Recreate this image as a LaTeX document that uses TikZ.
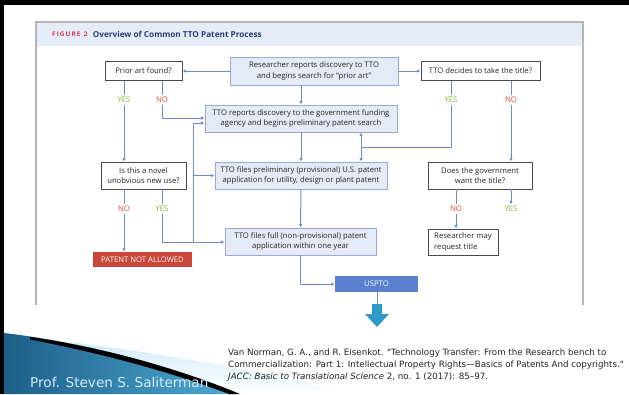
\documentclass[tikz,border=0pt]{standalone}
\usepackage{fontspec}
\setmainfont{Open Sans}
\newfontfamily\slidefont{DejaVu Sans}
\usetikzlibrary{arrows.meta, positioning, calc}

\begin{document}
\begin{tikzpicture}[
    x=1pt, y=-1pt,
    >=Latex
]

\definecolor{boxfill}{HTML}{E6EAF6}
\definecolor{boxline}{HTML}{9AA6D6}
\definecolor{askline}{HTML}{4A4A4A}
\definecolor{flow}{HTML}{6F8BCB}
\definecolor{figtext}{HTML}{262626}
\definecolor{yesgreen}{HTML}{7DB83A}
\definecolor{nored}{HTML}{D9523A}
\definecolor{stopred}{HTML}{C9463A}
\definecolor{usptoblue}{HTML}{5B80CF}
\definecolor{headband}{HTML}{E4EDF7}
\definecolor{framegray}{HTML}{B4B4B4}
\definecolor{headred}{HTML}{D8344E}
\definecolor{headnavy}{HTML}{2B3C73}
\definecolor{dropteal}{HTML}{2E9AC6}
\definecolor{swdark}{HTML}{1C5F88}
\definecolor{swlight}{HTML}{4FAAD3}
\definecolor{swpale}{HTML}{D4ECF8}
\definecolor{citetext}{HTML}{222222}

\tikzset{
    stepbox/.style={
        rectangle,
        draw=boxline,
        fill=boxfill,
        line width=0.9pt,
        text=figtext,
        font=\fontsize{7.7}{10.4}\selectfont,
        align=center,
        inner sep=1pt
    },
    askbox/.style={
        stepbox,
        draw=askline,
        fill=white
    },
    endbox/.style={
        rectangle,
        text=white,
        font=\fontsize{7.7}{9}\selectfont,
        inner sep=1pt
    },
    yeslbl/.style={text=yesgreen, font=\fontsize{7.8}{8}\selectfont, inner sep=1.5pt},
    nolbl/.style={text=nored, font=\fontsize{7.8}{8}\selectfont, inner sep=1.5pt},
    lnk/.style={draw=flow, line width=1pt},
    arr/.style={lnk, -{Latex[length=3.5pt, width=3.5pt]}}
}

\useasboundingbox (0,0) rectangle (629,394);
\fill[white] (0,0) rectangle (629,394);

% Slide edges
\fill[black] (0,0) rectangle (629,5);

% Figure frame and header band
\fill[headband] (36,22) rectangle (583,46);
\draw[framegray, line width=1.6pt] (36,305) -- (36,22) -- (583,22) -- (583,305);
\node[anchor=west, inner sep=0pt, text=headred, font=\fontsize{6.4}{7}\selectfont\bfseries] (fignum) at (52,34) {F\,I\,G\,U\,R\,E\ \ 2};
\node[right=5pt of fignum, inner sep=0pt, text=headnavy, font=\fontsize{8.2}{9}\selectfont\bfseries] (figtitle) {Overview of Common TTO Patent Process};

% Boxes
\node[stepbox, minimum width=168pt, minimum height=28pt] (research) at (314,71) {Researcher reports discovery to TTO\\and begins search for ``prior art''};
\node[askbox, minimum width=77pt, minimum height=19pt] (prior) at (143.5,71) {Prior art found?};
\node[askbox, minimum width=119pt, minimum height=19pt] (decide) at (480.5,71) {TTO decides to take the title?};
\node[stepbox, minimum width=192pt, minimum height=27pt] (reports) at (301,118.5) {TTO reports discovery to the government funding\\agency and begins preliminary patent search};
\node[askbox, minimum width=85pt, minimum height=27pt] (novel) at (143.5,175.5) {Is this a novel\\unobvious new use?};
\node[stepbox, minimum width=172pt, minimum height=27pt] (prelim) at (301,175.5) {TTO files preliminary (provisional) U.S. patent\\application for utility, design or plant patent};
\node[askbox, minimum width=104pt, minimum height=27pt] (gov) at (480,175.5) {Does the government\\want the title?};
\node[askbox, minimum width=70pt, minimum height=26pt, align=left] (mayreq) at (463,242) {Researcher may\\request title};
\node[stepbox, minimum width=151pt, minimum height=27pt] (full) at (300.5,241.5) {TTO files full (non-provisional) patent\\application within one year};
\node[endbox, fill=stopred, minimum width=99pt, minimum height=15pt] (stop) at (142.5,259.5) {PATENT NOT ALLOWED};
\node[endbox, fill=usptoblue, minimum width=83pt, minimum height=16pt] (uspto) at (376.5,284) {USPTO};

% Answer labels
\node[yeslbl] (prioryes) at (124,100) {YES};
\node[nolbl] (priorno) at (162,100) {NO};
\node[yeslbl] (decideyes) at (451,100) {YES};
\node[nolbl] (decideno) at (511,100) {NO};
\node[nolbl] (novelno) at (124,209) {NO};
\node[yeslbl] (novelyes) at (162,209) {YES};
\node[nolbl] (govno) at (456,209) {NO};
\node[yeslbl] (govyes) at (511,209) {YES};

% Junctions
\coordinate (feedbot) at (193,242);
\coordinate (feedtop) at (193,123);
\coordinate (feedmid) at (193,175.5);
\coordinate (titlejoin) at (361,147);
\coordinate (drop) at (377,304);

% From the researcher
\draw[arr] (research.west) -- (prior.east);
\draw[arr] (research.east) -- (decide.west);
\draw[arr] (research.south -| reports.north) -- (reports.north);

% Prior art found?
\draw[lnk] (prior.south -| prioryes) -- (prioryes);
\draw[arr] (prioryes) -- (novel.north -| prioryes);
\draw[lnk] (prior.south -| priorno) -- (priorno);
\draw[arr] (priorno) |- (reports.west |- 0,118);

% Is this a novel unobvious new use?
\draw[lnk] (novel.south -| novelno) -- (novelno);
\draw[arr] (novelno) -- (stop.north -| novelno);
\draw[lnk] (novel.south -| novelyes) -- (novelyes);
\draw[arr] (novelyes) |- (full.west |- feedbot);
\draw[lnk] (feedbot) -- (feedtop);
\draw[arr] (feedtop) -- (reports.west |- feedtop);
\draw[arr] (feedmid) -- (prelim.west);

% TTO decides to take the title?
\draw[lnk] (decide.south -| decideyes) -- (decideyes);
\draw[lnk] (decideyes) |- (titlejoin);
\draw[arr] (titlejoin) -- (reports.south -| titlejoin);
\draw[arr] (titlejoin) -- (prelim.north -| titlejoin);
\draw[lnk] (decide.south -| decideno) -- (decideno);
\draw[arr] (decideno) -- (gov.north -| decideno);

% Does the government want the title?
\draw[lnk] (gov.south -| govno) -- (govno);
\draw[arr] (govno) -- (mayreq.north -| govno);
\draw[arr] (gov.south -| govyes) -- (govyes);

% Filing path
\draw[arr] (reports.south) -- (prelim.north);
\draw[arr] (prelim.south) -- (full.north);
\draw[arr] (full.south) |- (uspto.west);
\draw[lnk] (uspto.south -| drop) -- (drop);
\fill[dropteal] (372,304) -- (382,304) -- (382,314) -- (389,314) -- (377,327) -- (365,314) -- (372,314) -- cycle;

% Slide footer swoosh
\begin{scope}
    \clip (0,0) rectangle (629,394);
    \shade[top color=swpale, bottom color=white] (70,342) .. controls (180,356) and (280,374) .. (345,394) -- (190,394) -- cycle;
    \shade[left color=swdark, right color=swlight] (4,333) .. controls (90,343) and (170,366) .. (236,394) -- (4,394) -- cycle;
    \fill[black] (30,337) .. controls (100,347) and (175,367) .. (240,394) -- (229,394) .. controls (168,371) and (100,353) .. (30,339.5) -- cycle;
\end{scope}
\fill[black] (0,0) rectangle (4,394);

% Footer texts
\node[anchor=base west, inner sep=0pt, text=swpale, font=\slidefont\fontsize{13.6}{15}\selectfont] (author) at (30,387) {Prof. Steven S. Saliterman};
\node[anchor=north west, inner sep=0pt, align=left, text=citetext, font=\slidefont\fontsize{8.7}{12}\selectfont] (cite) at (228,349) {Van Norman, G. A., and R. Eisenkot. "Technology Transfer: From the Research bench to\\Commercialization: Part 1: Intellectual Property Rights—Basics of Patents And copyrights."\\\textit{JACC: Basic to Translational Science} 2, no. 1 (2017): 85–97.};

\end{tikzpicture}
\end{document}
